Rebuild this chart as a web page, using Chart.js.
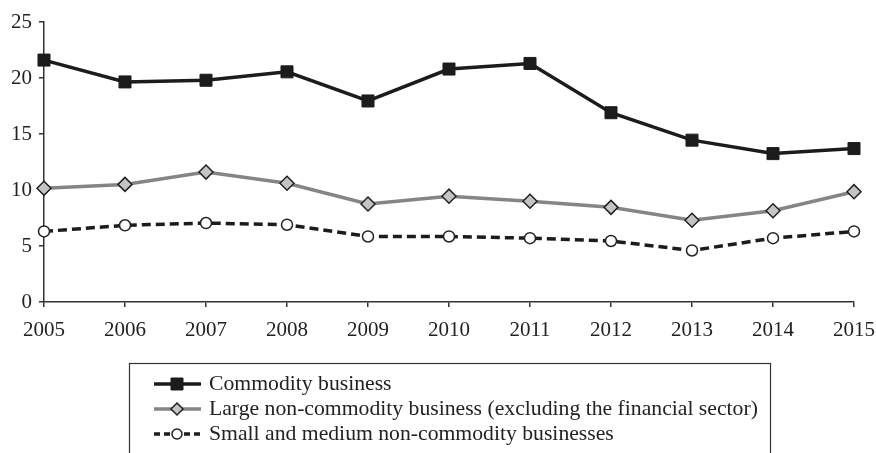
<!DOCTYPE html>
<html><head><meta charset="utf-8">
<script src="https://cdn.jsdelivr.net/npm/chart.js@4.4.1/dist/chart.umd.min.js"></script>
<style>html,body{margin:0;padding:0;background:#fff;}#wrap{width:876px;height:453px;}</style>
</head><body><div id="wrap"><canvas id="c" width="876" height="453"></canvas></div>
<script>
const years = ['2005','2006','2007','2008','2009','2010','2011','2012','2013','2014','2015'];
const commodity = [21.6, 19.65, 19.8, 20.55, 17.95, 20.8, 21.3, 16.9, 14.45, 13.25, 13.7];
const largeNonCommodity = [10.15, 10.5, 11.6, 10.6, 8.75, 9.45, 9.0, 8.45, 7.3, 8.15, 9.85];
const smallMedium = [6.3, 6.85, 7.05, 6.9, 5.85, 5.85, 5.7, 5.45, 4.6, 5.7, 6.3];
const seriesNames = ['Commodity business','Large non-commodity business (excluding the financial sector)','Small and medium non-commodity businesses'];
const yTicks = [0,5,10,15,20,25];

const FONT = '"Liberation Serif", "Times New Roman", serif';

const legendBox = {
  id: 'legendBox',
  afterDraw(chart) {
    const ctx = chart.ctx;
    ctx.save();
    ctx.strokeStyle = '#333';
    ctx.lineWidth = 1.2;
    ctx.strokeRect(129.5, 363.5, 641, 100);
    const rows = [384, 409, 434];
    const cx = 177;
    chart.data.datasets.forEach((ds, i) => {
      const y = rows[i];
      ctx.save();
      ctx.strokeStyle = ds.borderColor;
      ctx.lineWidth = ds.borderWidth;
      ctx.setLineDash(ds.borderDash ? [6,4] : []);
      ctx.beginPath(); ctx.moveTo(154, y); ctx.lineTo(201, y); ctx.stroke();
      ctx.restore();
      const r = {rect: 6, rectRot: 6, circle: 5}[ds.pointStyle];
      ctx.save();
      ctx.fillStyle = ds.pointBackgroundColor; ctx.strokeStyle = ds.pointBorderColor; ctx.lineWidth = ds.pointBorderWidth;
      ctx.beginPath();
      if (ds.pointStyle === 'rect') { ctx.rect(cx - r, y - r, 2*r, 2*r); }
      else if (ds.pointStyle === 'rectRot') { ctx.moveTo(cx, y - r); ctx.lineTo(cx + r, y); ctx.lineTo(cx, y + r); ctx.lineTo(cx - r, y); ctx.closePath(); }
      else { ctx.arc(cx, y, r, 0, Math.PI*2); }
      ctx.fill(); ctx.stroke();
      ctx.restore();
      ctx.fillStyle = '#222';
      ctx.font = '21.7px ' + FONT;
      ctx.textBaseline = 'middle';
      ctx.fillText(ds.label, 209, y);
    });
    ctx.restore();
  }
};

new Chart(document.getElementById('c'), {
  type: 'line',
  data: {
    labels: years,
    datasets: [
      {label: seriesNames[0], data: commodity, borderColor: '#1c1c1c', borderWidth: 3.5, pointStyle: 'rect', pointRadius: 8.5, pointBackgroundColor: '#1c1c1c', pointBorderColor: '#1c1c1c', pointBorderWidth: 1, tension: 0},
      {label: seriesNames[1], data: largeNonCommodity, borderColor: '#858585', borderWidth: 3.5, pointStyle: 'rectRot', pointRadius: 7, pointBackgroundColor: '#c4c4c4', pointBorderColor: '#222', pointBorderWidth: 1.5, tension: 0},
      {label: seriesNames[2], data: smallMedium, borderColor: '#1c1c1c', borderWidth: 3.5, borderDash: [9,5], pointStyle: 'circle', pointRadius: 5.5, pointBackgroundColor: '#fff', pointBorderColor: '#222', pointBorderWidth: 1.5, tension: 0}
    ]
  },
  options: {
    responsive: false,
    animation: false,
    layout: {padding: {left: 0, right: 22, top: 22, bottom: 111}},
    plugins: {legend: {display: false}, tooltip: {enabled: false}},
    scales: {
      x: {
        offset: false,
        border: {color: '#333', width: 1.5},
        grid: {display: true, drawOnChartArea: false, drawTicks: true, tickLength: 5, color: '#333', lineWidth: 1.5},
        ticks: {color: '#222', font: {family: FONT, size: 21}, padding: 11, maxRotation: 0, autoSkip: false},
        afterFit(s) { s.height = 40; s.paddingLeft = 0; s.paddingRight = 0; }
      },
      y: {
        min: 0, max: 25,
        afterBuildTicks(s) { s.ticks = yTicks.map(v => ({value: v})); },
        border: {color: '#333', width: 1.5},
        grid: {display: true, drawOnChartArea: false, drawTicks: true, tickLength: 5, color: '#333', lineWidth: 1.5},
        ticks: {color: '#222', font: {family: FONT, size: 21}, padding: 7},
        afterFit(s) { s.width = 44; s.paddingTop = 0; s.paddingBottom = 0; }
      }
    }
  },
  plugins: [legendBox]
});
</script></body></html>
